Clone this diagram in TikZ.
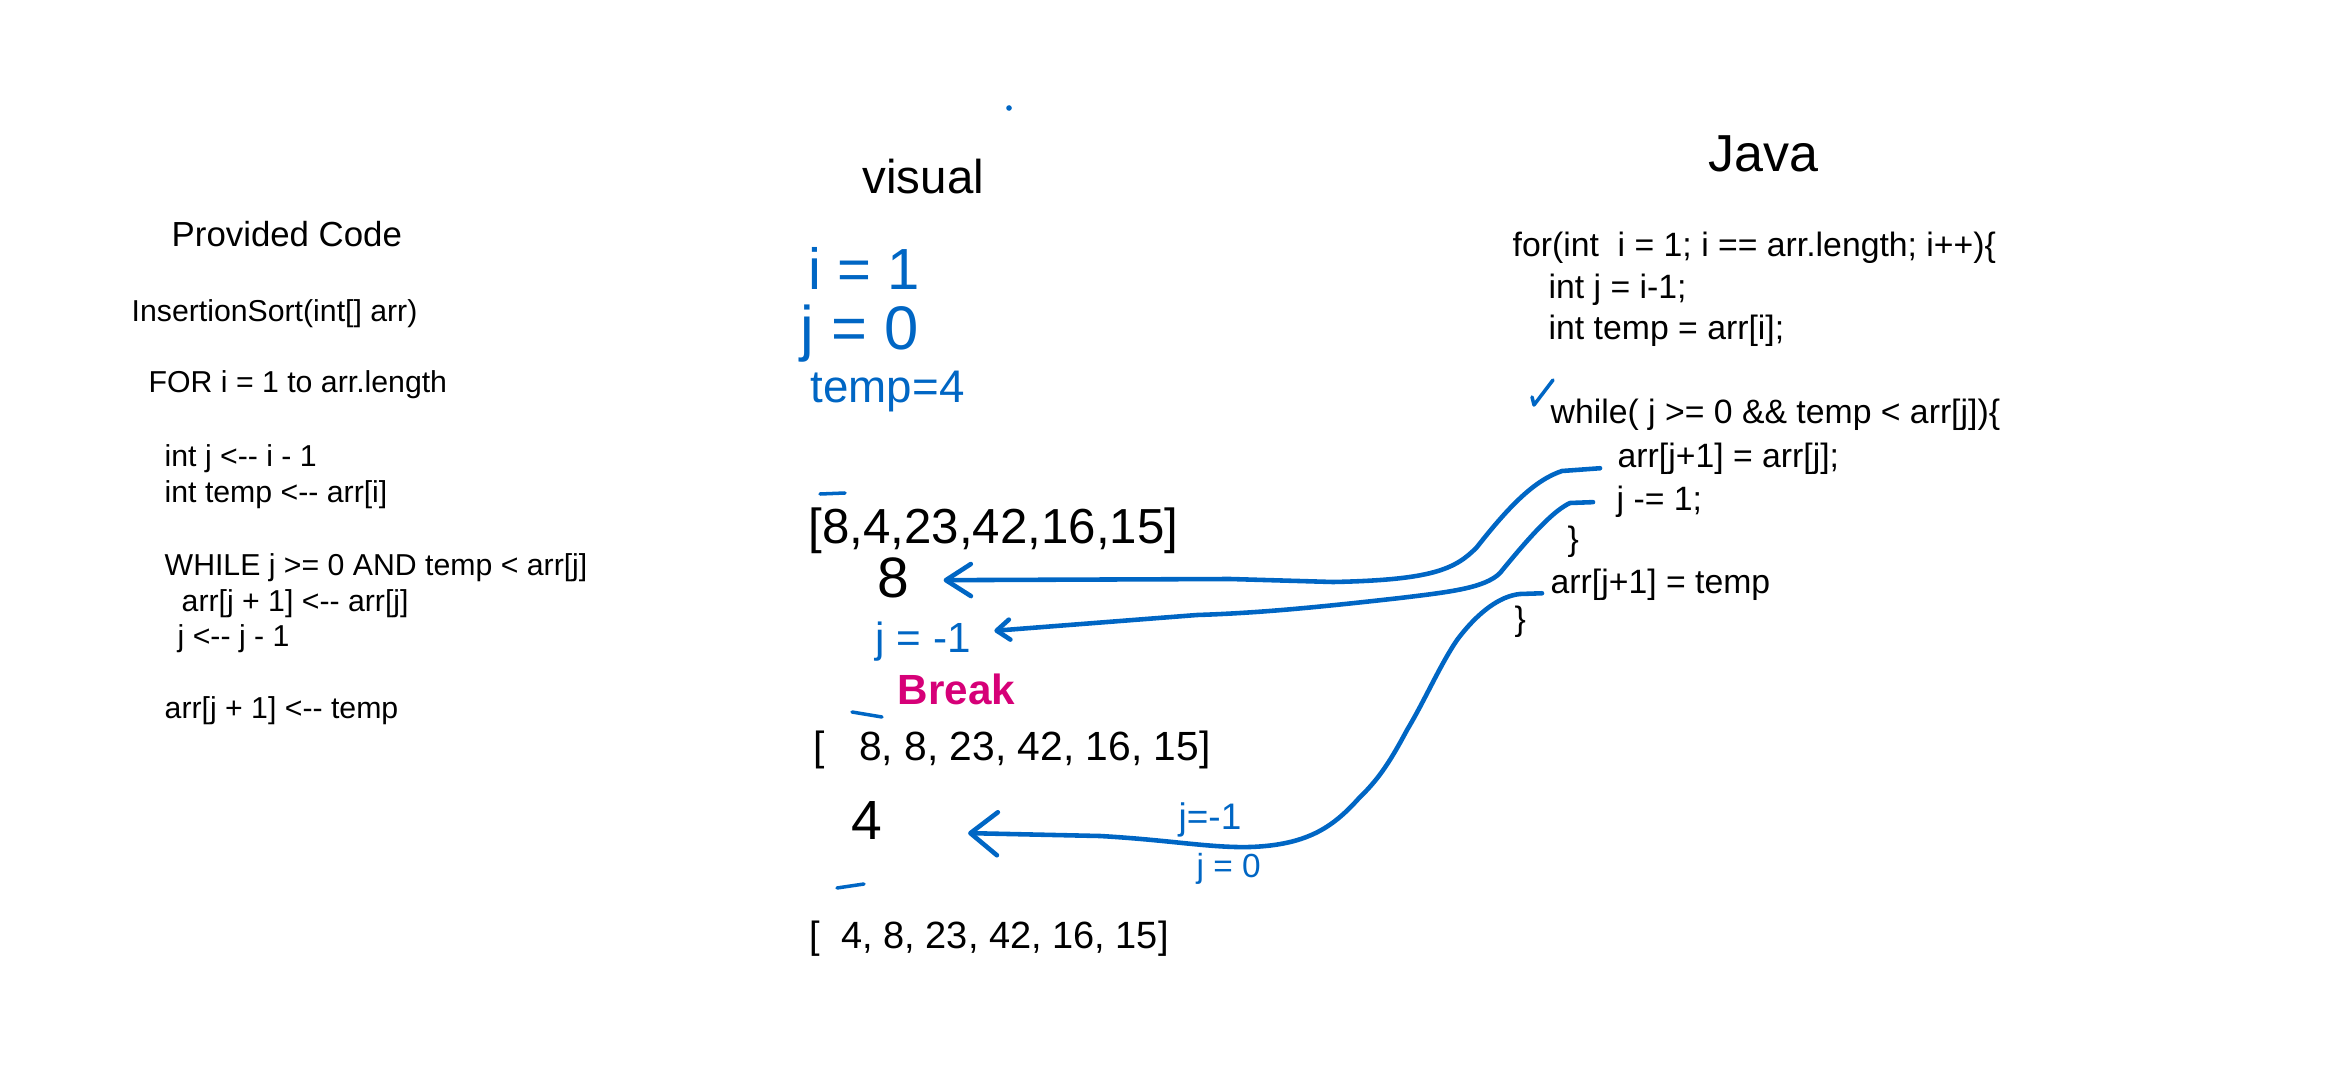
\documentclass[tikz,border=0pt]{standalone}
\usepackage{fontspec}
\setmainfont{Liberation Sans}
\usetikzlibrary{arrows.meta}
\definecolor{inkblue}{RGB}{0,102,196}
\definecolor{inkpink}{RGB}{214,0,120}

\begin{document}
\begin{tikzpicture}[x=0.01cm, y=-0.01cm,
    txt/.style={anchor=base west, inner sep=0pt},
    pseudo/.style={txt, font=\fontsize{8.6}{10}\selectfont},
    java/.style={txt, font=\fontsize{9.6}{11}\selectfont},
    heading/.style={txt, font=\fontsize{14}{16}\selectfont},
    arr/.style={txt, font=\fontsize{14}{16}\selectfont},
    ink/.style={txt, text=inkblue},
    flow/.style={draw=inkblue, line width=1.3pt, line cap=round, line join=round}]
    \useasboundingbox (0,0) rectangle (2342,1073);

    % provided code
    \node[heading, font=\fontsize{9.9}{12}\selectfont] (pc) at (171,247) {Provided Code};
    \node[pseudo] (p1) at (131,321) {InsertionSort(int[] arr)};
    \node[pseudo] (p2) at (148,392) {FOR i = 1 to arr.length};
    \node[pseudo] (p3) at (164,466) {int j <-{}- i - 1};
    \node[pseudo] (p4) at (164,502) {int temp <-{}- arr[i]};
    \node[pseudo] (p5) at (164,575) {WHILE j >= 0 AND temp < arr[j]};
    \node[pseudo] (p6) at (181,611) {arr[j + 1] <-{}- arr[j]};
    \node[pseudo] (p7) at (177,646) {j <-{}- j - 1};
    \node[pseudo] (p8) at (164,718) {arr[j + 1] <-{}- temp};

    % visual
    \node[heading, font=\fontsize{13.5}{16}\selectfont] (vis) at (862,194) {visual};
    \fill[inkblue] (1009,108) circle (0.8pt);
    \node[ink, font=\fontsize{16.5}{18}\selectfont] (vi) at (808,290) {i = 1};
    \node[ink, font=\fontsize{17.5}{19}\selectfont] (vj) at (800,350) {j = 0};
    \node[ink, font=\fontsize{13}{15}\selectfont] (vt) at (810,402) {temp=4};
    \node[arr] (a1) at (808,543) {[8,4,23,42,16,15]};
    \draw[flow, line width=1pt] (820,494) -- (845,493);
    \node[txt, anchor=base, font=\fontsize{16.2}{18}\selectfont] (v8) at (893,597) {8};
    \node[ink, font=\fontsize{12}{14}\selectfont] (jm1) at (875,652) {j = -1};
    \node[txt, text=inkpink, font=\fontsize{12}{14}\selectfont\bfseries] (brk) at (897,704) {Break};
    \node[arr, font=\fontsize{11.6}{14}\selectfont] (a2) at (813,760) {[\ \ \ 8, 8, 23, 42, 16, 15]};
    \draw[flow, line width=1pt] (852,712) -- (882,717);
    \node[txt, anchor=base, font=\fontsize{15.7}{18}\selectfont] (v4) at (867,839) {4};
    \node[ink, font=\fontsize{10.5}{12}\selectfont] (jl1) at (1178,829) {j=-1};
    \node[ink, font=\fontsize{9.5}{12}\selectfont] (jl0) at (1196,877) {j = 0};
    \node[arr, font=\fontsize{10.8}{13}\selectfont] (a3) at (809,948) {[\ \ 4, 8, 23, 42, 16, 15]};
    \draw[flow, line width=1pt] (837,888) -- (864,884);

    % java
    \node[heading, font=\fontsize{14.8}{17}\selectfont] (jv) at (1708,172) {Java};
    \node[java] (j1) at (1512,257) {for(int\ \ i = 1; i == arr.length; i++)\{};
    \node[java] (j2) at (1548,298) {int j = i-1;};
    \node[java] (j3) at (1548,340) {int temp = arr[i];};
    \draw[flow, line width=1pt] (1532,397) -- (1534,405) -- (1553,380);
    \node[java] (j4) at (1550,423) {while( j >= 0 \&\& temp < arr[j])\{};
    \node[java] (j5) at (1617,467) {arr[j+1] = arr[j];};
    \node[java] (j6) at (1616,510) {j -= 1;};
    \node[java] (j7) at (1567,550) {\}};
    \node[java] (j8) at (1550,593) {arr[j+1] = temp};
    \node[java] (j9) at (1514,630) {\}};

    % links
    \draw[flow, -{Straight Barb[round, length=0.25cm, width=0.32cm]}, shorten <=0.17cm, shorten >=0.34cm]
        (j5.base west) -- (1562,471) .. controls (1535,480) and (1510,505) .. (1477,547)
        .. controls (1455,570) and (1430,580) .. (1333,582) -- (1230,579) -- (v8.-10);
    \draw[flow, -{Straight Barb[round, length=0.13cm, width=0.2cm]}, shorten <=0.23cm, shorten >=0.23cm]
        (j6.west) -- (1570,503) .. controls (1555,510) and (1535,530) .. (1500,573)
        .. controls (1485,588) and (1450,592) .. (1400,598)
        .. controls (1320,607) and (1260,613) .. (1197,615) -- (jm1.10);
    \draw[flow, -{Straight Barb[round, length=0.27cm, width=0.43cm]}, shorten <=0.08cm, shorten >=0.85cm]
        (j8.base west) -- (1520,594) .. controls (1500,596) and (1478,612) .. (1457,640)
        .. controls (1440,665) and (1425,700) .. (1407,730)
        .. controls (1392,758) and (1380,778) .. (1360,797)
        .. controls (1335,825) and (1310,845) .. (1250,847)
        .. controls (1210,848) and (1170,840) .. (1100,836) -- (v4.-35);
\end{tikzpicture}
\end{document}
